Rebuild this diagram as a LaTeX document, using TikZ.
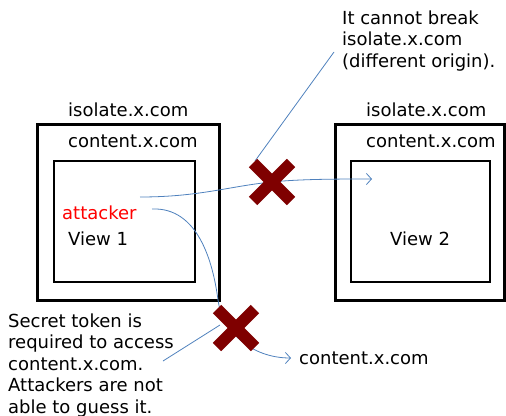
\documentclass[tikz,border=0pt]{standalone}
\usepackage{fontspec}
\setmainfont{DejaVu Sans}
\usetikzlibrary{arrows.meta}
\definecolor{linkblue}{HTML}{4F81BD}
\definecolor{crossred}{HTML}{7F0000}

\begin{document}
\begin{tikzpicture}[x=1pt,y=-1pt,
  lbl/.style={anchor=base west, inner sep=0pt, font=\fontsize{18}{21.5}\selectfont, align=left},
  outerbox/.style={draw, line width=3pt},
  innerbox/.style={draw, line width=2.2pt},
  link/.style={draw=linkblue, line width=0.8pt},
  arr/.style={link, -{Straight Barb[length=5pt,width=11pt]}},
  crossbar/.style={draw=crossred, line width=12pt}
]
\useasboundingbox (0,0) rectangle (506,415);

% frames: isolate.x.com (outer) holding content.x.com (inner)
\draw[outerbox] (37,124) rectangle (219,300);
\draw[innerbox] (54,161) rectangle (195,282);
\draw[outerbox] (335,124) rectangle (504,300);
\draw[innerbox] (351,161) rectangle (490,282);

% frame labels
\node[lbl] (iso1) at (68,116) {isolate.x.com};
\node[lbl] (con1) at (68,147) {content.x.com};
\node[lbl, text=red] (att) at (62,219) {attacker};
\node[lbl] (view1) at (68,245) {View 1};
\node[lbl] (iso2) at (366,116) {isolate.x.com};
\node[lbl] (con2) at (366,147) {content.x.com};
\node[lbl] (view2) at (390,245) {View 2};

% notes (base anchor sits on the last line)
\node[lbl] (note1) at (342,67) {It cannot break\\isolate.x.com\\(different origin).};
\node[lbl] (note2) at (8,413) {Secret token is\\required to access\\content.x.com.\\Attackers are not\\able to guess it.};
\node[lbl] (con3) at (299,364) {content.x.com};

% connector end points
\coordinate (a1) at (140,197);
\coordinate (a2) at (372,179);
\coordinate (b1) at (152,209);
\coordinate (b2) at (218,300);
\coordinate (b3) at (291,358);
\coordinate (x1) at (272,182);
\coordinate (x2) at (236,328);
\coordinate (c1) at (334,52);
\coordinate (c2) at (255,161);
\coordinate (d1) at (163,361);
\coordinate (d2) at (220,325);

% attempts
\draw[arr] (a1) .. controls (200,197) and (230,186) .. (x1) .. controls (300,179) and (340,179) .. (a2);
\draw[arr] (b1) .. controls (198,207) and (213,262) .. (b2) .. controls (222,330) and (250,358) .. (b3);

% callouts
\draw[link] (c1) -- (c2);
\draw[link] (d1) -- (d2);

% blocked marks
\foreach \p in {x1,x2}{
  \draw[crossbar] ([shift={(-19,-19)}]\p) -- ([shift={(19,19)}]\p);
  \draw[crossbar] ([shift={(19,-19)}]\p) -- ([shift={(-19,19)}]\p);
}
\end{tikzpicture}
\end{document}
